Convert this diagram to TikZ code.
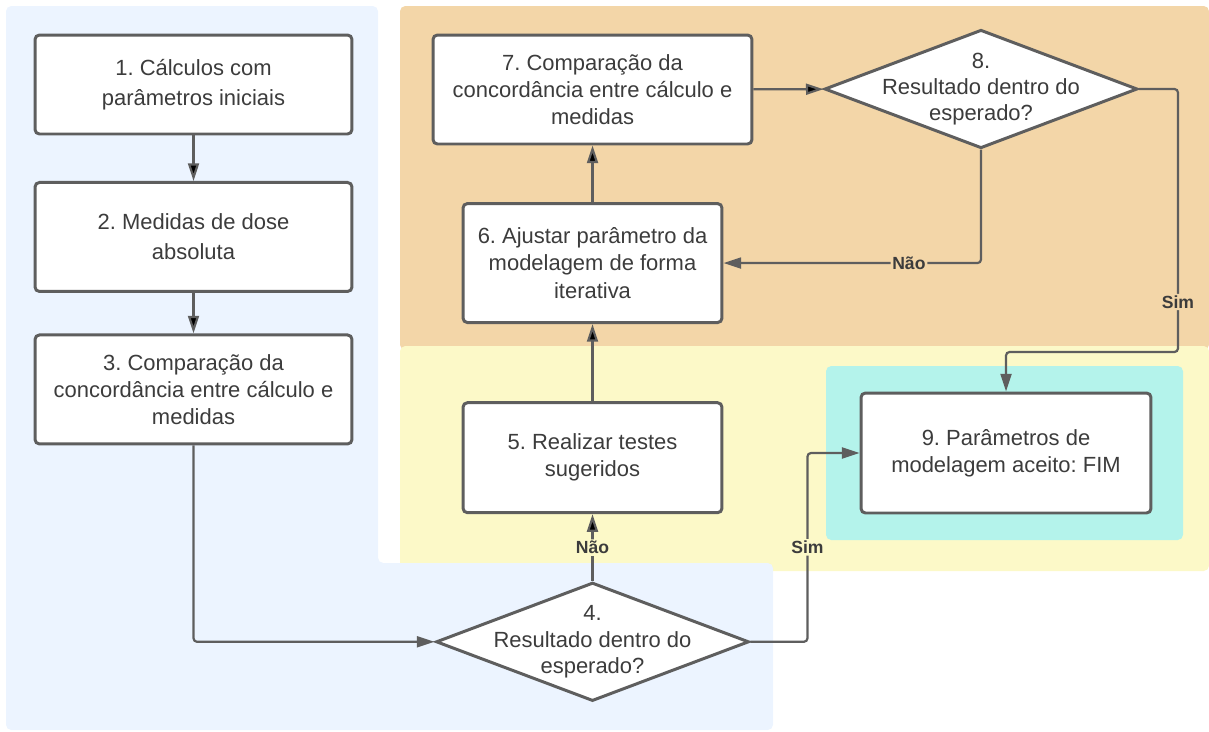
\documentclass[tikz,border=0pt]{standalone}
\usepackage{fontspec}
\setmainfont{Liberation Sans}
\usetikzlibrary{shapes.geometric,arrows.meta}
\frenchspacing

\definecolor{bgblue}{RGB}{236,244,255}
\definecolor{bgorange}{RGB}{243,214,168}
\definecolor{bgyellow}{RGB}{252,249,200}
\definecolor{bgcyan}{RGB}{180,243,235}
\definecolor{linegray}{RGB}{94,94,94}
\definecolor{textgray}{RGB}{60,60,60}

\begin{document}
\begin{tikzpicture}[x=0.02cm,y=-0.02cm,>={Triangle[length=10pt,width=6.2pt]},node distance=3.05cm,
    box node/.style={rectangle,draw=linegray,fill=white,line width=1.7pt,rounded corners=2.5pt,align=center,text=textgray,font=\fontsize{12.5}{15.5}\selectfont,minimum width=6.34cm,minimum height=2.18cm},
    test node/.style={diamond,draw=linegray,fill=white,line width=1.7pt,inner sep=0pt,minimum width=6.26cm,minimum height=2.37cm},
    test text/.style={align=center,text=textgray,font=\fontsize{12.5}{15}\selectfont},
    flow/.style={->,draw=linegray,line width=1.25pt,rounded corners=2pt},
    answer/.style={font=\bfseries\fontsize{10}{12}\selectfont,text=textgray,inner sep=1pt}]
    \useasboundingbox (0,0) rectangle (1209,731);

    \fill[bgorange,rounded corners=3pt] (400,6) rectangle (1209,350);
    \fill[bgyellow,rounded corners=3pt] (400,346) rectangle (1209,571);
    \fill[bgcyan,rounded corners=3pt] (826,366) rectangle (1183,540);
    \fill[bgblue,rounded corners=3pt] (6,6) -- (378,6) -- (378,563) -- (773,563) -- (773,730) -- (6,730) -- cycle;

    \node[box node,minimum height=1.98cm,font=\fontsize{12.5}{17}\selectfont] (1) at (193.5,84.5) {1. Cálculos com\\parâmetros iniciais};
    \node[box node,font=\fontsize{12.5}{17}\selectfont] (2) [below of=1] {2. Medidas de dose\\absoluta};
    \node[box node] (3) [below of=2] {3. Comparação da\\concordância entre cálculo e\\medidas};

    \node[box node,minimum width=6.38cm] (7) at (592.5,89.5) {7. Comparação da\\concordância entre cálculo e\\medidas};
    \node[box node,minimum width=5.18cm,minimum height=2.38cm] (6) [below of=7,yshift=-12pt] {6. Ajustar parâmetro da\\modelagem de forma\\iterativa};
    \node[box node,minimum width=5.18cm,minimum height=2.2cm] (5) [below of=6,yshift=-24pt] {5. Realizar testes\\sugeridos};
    \node[test node] (4) [below of=5,yshift=-18pt] {};
    \node[test text] (4t) at (4) {4.\\Resultado dentro do\\esperado?};

    \node[test node] (8) at (981,89) {};
    \node[test text] (8t) at (8) {8.\\Resultado dentro do\\esperado?};
    \node[box node,minimum width=5.8cm,minimum height=2.4cm] (9) at (1006,453) {9. Parâmetros de\\modelagem aceito: FIM};

    \path[flow]
        (1) edge (2)
        (2) edge (3)
        (5) edge (6)
        (6) edge (7)
        (7) edge (8)
        (4) edge node[answer,fill=bgyellow] (no4) {Não} (5);
    \draw[flow] (3) |- (4);
    \draw[flow] (4.east) -- ++(57,0) |- node[pos=0.25,answer,fill=bgyellow] (yes4) {Sim} (9.west);
    \draw[flow] (8.south) |- node[pos=0.64,answer,fill=bgorange] (no8) {Não} (6.east);
    \draw[flow] (8.east) -- ++(39,0) -- node[pos=0.81,answer,fill=bgorange] (yes8) {Sim} ++(0,263) -| (9.north);
\end{tikzpicture}
\end{document}
